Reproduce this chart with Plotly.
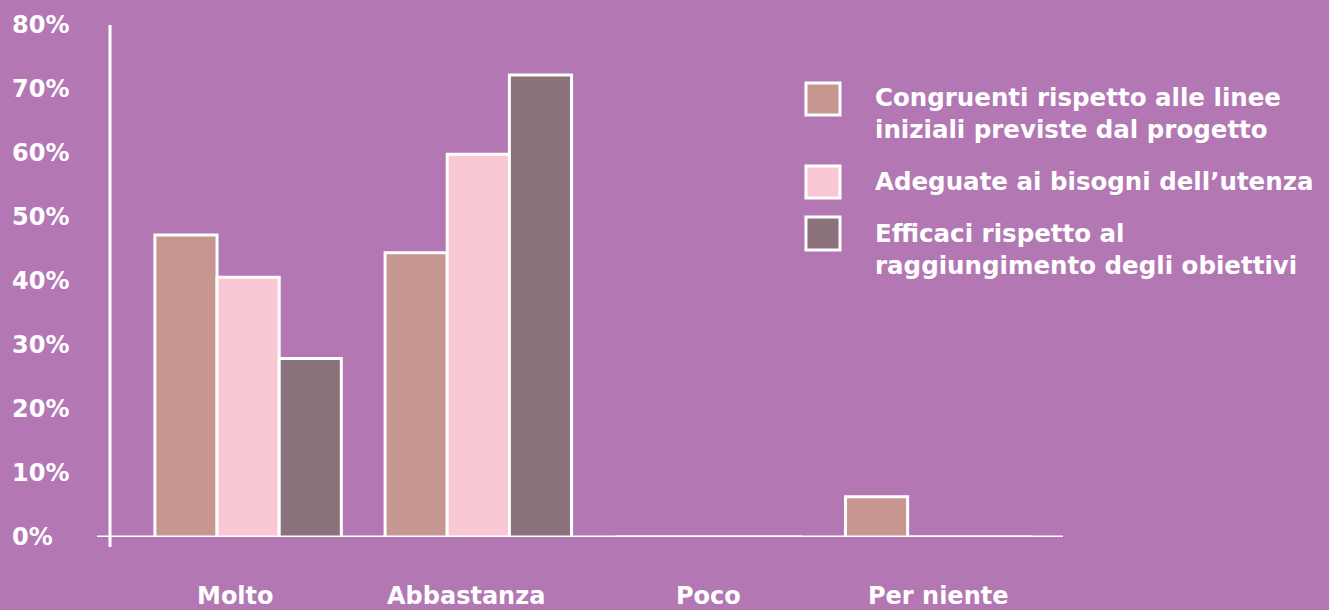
import plotly.graph_objects as go

# data
categories = ["Molto", "Abbastanza", "Poco", "Per niente"]
series_names = [
    "Congruenti rispetto alle linee<br>iniziali previste dal progetto",
    "Adeguate ai bisogni dell\u2019utenza",
    "Efficaci rispetto al<br>raggiungimento degli obiettivi",
]
congruenti = [47.2, 44.4, 0, 6.3]
adeguate = [40.6, 59.8, 0, 0]
efficaci = [27.9, 72.2, 0, 0]
y_ticks = [0, 10, 20, 30, 40, 50, 60, 70, 80]

colors = ["#C89690", "#F8C8D4", "#8B717B"]
bg = "#B378B3"
font_axis = "DejaVu Sans"
label_font = dict(family=font_axis, size=24, color="white", weight="bold")

fig = go.Figure()
for name, vals, col in zip(series_names, [congruenti, adeguate, efficaci], colors):
    fig.add_trace(go.Bar(
        x=categories, y=vals, name=name,
        marker=dict(color=col, line=dict(color="white", width=3)),
        showlegend=False,
    ))

fig.update_layout(
    width=1329, height=610,
    paper_bgcolor=bg, plot_bgcolor=bg,
    margin=dict(l=110, r=266, t=25, b=73),
    barmode="group", bargap=0.19, bargroupgap=0,
    font=dict(family=font_axis, color="white", size=24),
)
fig.update_xaxes(
    range=[-0.6, 3.54], showline=False, showgrid=False, zeroline=False,
    showticklabels=False, automargin=False,
)
fig.update_yaxes(
    range=[0, 80], showgrid=False, zeroline=False, showline=False,
    showticklabels=False, tickvals=y_ticks, automargin=False,
)

# axis lines
fig.add_shape(type="line", xref="paper", yref="paper", x0=0, x1=0, y0=-0.0195, y1=1,
              line=dict(color="white", width=3))
fig.add_shape(type="line", xref="paper", yref="y", x0=-0.0136, x1=1, y0=0, y1=0,
              line=dict(color="white", width=3), layer="below")

# category labels (slightly off-centre as in the original)
label_shift = [-13, -12, 0, -1]
for cat, sh in zip(categories, label_shift):
    fig.add_annotation(x=cat, xref="x", y=-0.1152, yref="paper", text=cat,
                       showarrow=False, xanchor="center", yanchor="middle",
                       xshift=sh, font=label_font)

# left-aligned y tick labels
for t in y_ticks:
    fig.add_annotation(x=-0.105, xref="paper", y=t, yref="y", text=f"{t}%",
                       showarrow=False, xanchor="left", yanchor="middle", font=label_font)

# legend drawn by hand (large swatches)
box_y = [(0.8867, 0.8242), (0.7246, 0.6621), (0.625, 0.5605)]
text_y = [0.828, 0.6953, 0.5615]
for (y0, y1), ty, name, col in zip(box_y, text_y, series_names, colors):
    fig.add_shape(type="rect", xref="paper", yref="paper", x0=0.7303, x1=0.766, y0=y1, y1=y0,
                  fillcolor=col, line=dict(color="white", width=3))
    fig.add_annotation(x=0.8006, xref="paper", y=ty, yref="paper", text=name,
                       showarrow=False, xanchor="left", yanchor="middle", align="left",
                       font=dict(family=font_axis, size=24.5, color="white", weight="bold"))

fig.write_html("out.html", config={"displayModeBar": False},
               post_script="document.body.style.margin='0';")
